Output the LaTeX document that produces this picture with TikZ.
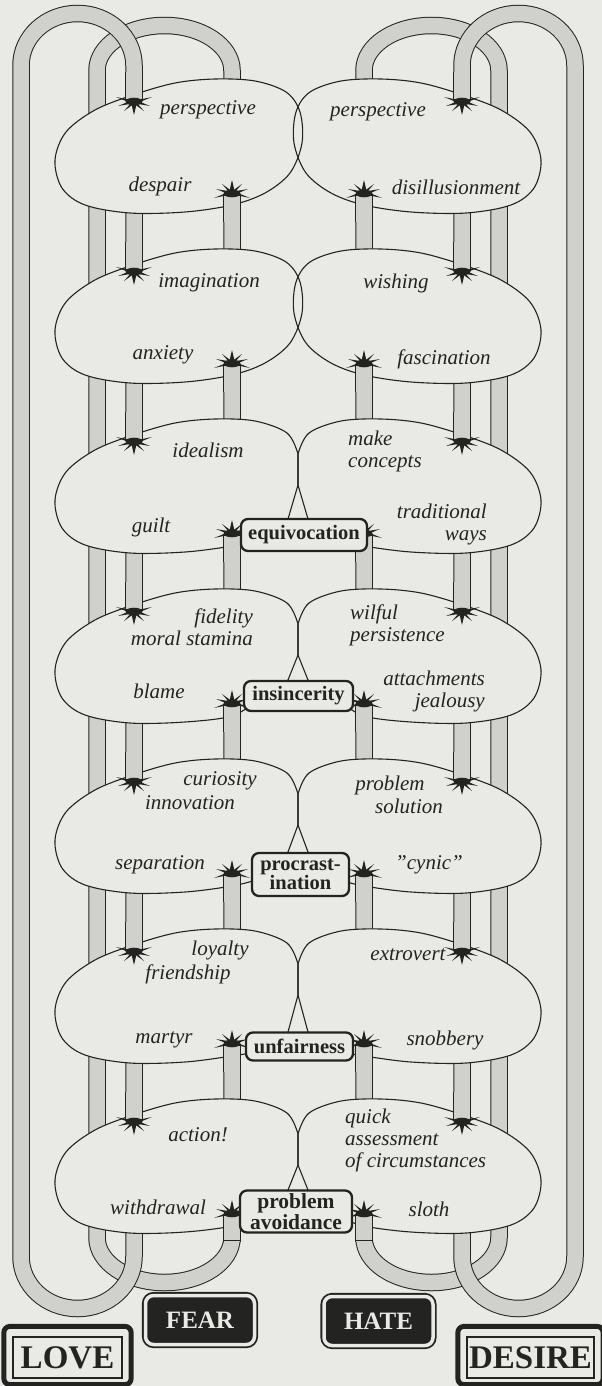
\documentclass[tikz,border=0pt]{standalone}
\usepackage{fontspec}
\setmainfont{Liberation Serif}
\definecolor{bg}{RGB}{233,233,230}
\definecolor{tubec}{RGB}{208,208,205}
\definecolor{ink}{RGB}{35,35,33}
\newcommand\starshape{%
  \fill[ink] (0,0.5) ellipse[x radius=8.5, y radius=3.8];
  \fill[ink] (-5,-1.3) -- (-18,-4) -- (-5,1.3) -- cycle;
  \fill[ink] (-5,0.5) -- (-16,5) -- (-4,3) -- cycle;
  \fill[ink] (-3,2) -- (-10,10) -- (-1,3.5) -- cycle;
  \fill[ink] (-2.8,2) -- (0,14) -- (2.8,2) -- cycle;
  \fill[ink] (3,2) -- (10,10) -- (1,3.5) -- cycle;
  \fill[ink] (5,0.5) -- (16,5) -- (4,3) -- cycle;
  \fill[ink] (5,-1.3) -- (18,-4) -- (5,1.3) -- cycle;
}
\tikzset{
  starT/.pic={\starshape},
  starB/.pic={\begin{scope}[yscale=-1]\starshape\end{scope}},
  tubeo/.style={draw=ink, line width=17.5pt},
  tubei/.style={draw=tubec, line width=15.5pt},
  blobline/.style={draw=ink, line width=1.1pt, line join=round},
  lbl/.style={font=\fontsize{21}{22}\selectfont\itshape, text=ink, inner sep=0pt},
  vice/.style={draw=ink, line width=2.3pt, rounded corners=7pt, fill=bg, text=ink,
    font=\fontsize{20.5}{19}\selectfont\bfseries, align=center, inner sep=0pt},
  passion/.style={draw=ink, fill=ink, text=bg, double=bg, double distance=3.5pt,
    line width=1.8pt, rounded corners=8pt, minimum width=109pt, minimum height=49pt,
    inner sep=0pt, font=\fontsize{25}{25}\selectfont\bfseries},
  root/.style={draw=ink, line width=1.2pt, fill=bg, text=ink, minimum height=41pt,
    inner sep=0pt, font=\fontsize{33}{33}\selectfont\bfseries},
}
\def\innerloop{(97,600) -- (97,70.5) arc[start angle=180,end angle=360,x radius=67.5,y radius=45] -- (232,1237.5) arc[start angle=0,end angle=180,x radius=67.5,y radius=45] -- cycle}
\def\outerloop{(21,600) -- (21,65.5) arc[start angle=180,end angle=360,x radius=56.5,y radius=52] -- (134,1256.5) arc[start angle=0,end angle=180,x radius=56.5,y radius=52] -- cycle}
\def\blobA{plot[smooth cycle, tension=0.55] coordinates {(300,112) (286,92) (255,81) (215,79) (175,83) (133,95) (95,110) (66,132) (55,160) (62,188) (85,205) (130,213) (185,212) (232,205) (265,193) (290,173) (302,143)}}
\newcommand\blobB[2]{(298,145) -- plot[smooth, tension=0.55] coordinates {(298,114) (287,93) (255,81) (215,79) (175,83) (133,95) (95,110) (66,132) (55,160) (62,188) (85,205) (130,213) (185,212) (232,206) (256,#2)} -- (288,#1) -- cycle}
\begin{document}
\begin{tikzpicture}[x=1pt,y=-1pt]
\useasboundingbox (0,0) rectangle (602,1386);
\fill[bg] (0,0) rectangle (602,1386);
% tube loops
\draw[tubeo] \innerloop; \draw[tubei] \innerloop;
\begin{scope}[shift={(596,0)},xscale=-1]
  \draw[tubeo] \innerloop; \draw[tubei] \innerloop;
\end{scope}
\draw[tubeo] \outerloop; \draw[tubei] \outerloop;
\begin{scope}[shift={(596,0)},xscale=-1]
  \draw[tubeo] \outerloop; \draw[tubei] \outerloop;
\end{scope}
% blob fills
\foreach \k in {0,1}{
  \begin{scope}[shift={(0,170*\k)}] \fill[bg] \blobA; \end{scope}
  \begin{scope}[shift={(596,170*\k)},xscale=-1] \fill[bg] \blobA; \end{scope}
}
\foreach \k/\t/\c in {2/179/200,3/170/191,4/172/200,5/182/202,6/170/197}{
  \begin{scope}[shift={(0,170*\k)}] \fill[bg] \blobB{\t}{\c}; \end{scope}
  \begin{scope}[shift={(596,170*\k)},xscale=-1] \fill[bg] \blobB{\t}{\c}; \end{scope}
}
% blob outlines
\foreach \k in {0,1}{
  \begin{scope}[shift={(0,170*\k)}] \draw[blobline] \blobA; \end{scope}
  \begin{scope}[shift={(596,170*\k)},xscale=-1] \draw[blobline] \blobA; \end{scope}
}
\foreach \k/\t/\c in {2/179/200,3/170/191,4/172/200,5/182/202,6/170/197}{
  \begin{scope}[shift={(0,170*\k)}] \draw[blobline] \blobB{\t}{\c}; \end{scope}
  \begin{scope}[shift={(596,170*\k)},xscale=-1] \draw[blobline] \blobB{\t}{\c}; \end{scope}
}
% stubs and stars
\foreach \k in {0,...,6}{
  \begin{scope}[shift={(0,170*\k)}]
    \draw[tubeo] (134,72) -- (134,101); \draw[tubei] (134,72) -- (134,101);
    \draw[tubeo] (232,222) -- (232,194); \draw[tubei] (232,222) -- (232,194);
    \pic at (134,101) {starT}; \pic at (232,194) {starB};
  \end{scope}
  \begin{scope}[shift={(596,170*\k)},xscale=-1]
    \draw[tubeo] (134,72) -- (134,101); \draw[tubei] (134,72) -- (134,101);
    \draw[tubeo] (232,222) -- (232,194); \draw[tubei] (232,222) -- (232,194);
    \pic at (134,101) {starT}; \pic at (232,194) {starB};
  \end{scope}
}
\draw[ink, line width=1pt] (223.3,1240) -- (240.7,1240);
\draw[ink, line width=1pt] (355.3,1240) -- (372.7,1240);
% labels
\node[lbl] (pL1) at (208,110) {perspective};
\node[lbl] (dL1) at (160,186) {despair};
\node[lbl] (pR1) at (378,112) {perspective};
\node[lbl] (dR1) at (456,187) {disillusionment};
\node[lbl] (iL2) at (209,283) {imagination};
\node[lbl] (aL2) at (163,355) {anxiety};
\node[lbl] (wR2) at (396,283) {wishing};
\node[lbl] (fR2) at (444,359) {fascination};
\node[lbl] (iL3) at (208,450) {idealism};
\node[lbl] (gL3) at (151,527) {guilt};
\node[lbl, align=left, anchor=west] (mR3) at (348,451) {make\\concepts};
\node[lbl, align=right, anchor=east] (tR3) at (487,524) {traditional\\ways};
\node[lbl, align=right, anchor=east] (fL4) at (253,627) {fidelity\\moral stamina};
\node[lbl] (bL4) at (159,691) {blame};
\node[lbl, align=left, anchor=west] (wR4) at (350,625) {wilful\\persistence};
\node[lbl, align=right, anchor=east] (aR4) at (485,691) {attachments\\jealousy};
\node[lbl] (cL5) at (220,781) {curiosity};
\node[lbl] (nL5) at (190,803) {innovation};
\node[lbl] (sL5) at (160,865) {separation};
\node[lbl] (pR5) at (390,785) {problem};
\node[lbl] (sR5) at (409,806) {solution};
\node[lbl] (cR5) at (429,865) {"cynic"};
\node[lbl] (lL6) at (220,950) {loyalty};
\node[lbl] (fL6) at (188,974) {friendship};
\node[lbl] (mL6) at (164,1040) {martyr};
\node[lbl] (eR6) at (408,955) {extrovert};
\node[lbl] (sR6) at (445,1040) {snobbery};
\node[lbl] (aL7) at (198,1135) {action!};
\node[lbl] (wL7) at (158,1207) {withdrawal};
\node[lbl, align=left, anchor=west] (qR7) at (345,1140) {quick\\assessment\\of circumstances};
\node[lbl] (sR7) at (429,1209) {sloth};
% vice boxes
\node[vice, minimum width=126pt, minimum height=32pt] (equiv) at (304,535) {equivocation};
\node[vice, minimum width=109pt, minimum height=30pt] (insinc) at (298.5,696) {insincerity};
\node[vice, minimum width=97pt, minimum height=43pt] (procr) at (300.5,874.5) {procrast-\\ination};
\node[vice, minimum width=107pt, minimum height=28pt] (unfair) at (299.5,1046.5) {unfairness};
\node[vice, minimum width=112pt, minimum height=42pt, font=\fontsize{21.5}{19}\selectfont\bfseries] (avoid) at (296,1211.5) {problem\\avoidance};
% passions
\node[passion] (fear) at (200,1320) {FEAR};
\node[passion] (hate) at (378.5,1321) {HATE};
\node[root, minimum width=109pt] (love) at (67.5,1357.5) {LOVE};
\node[root, minimum width=127pt] (desire) at (530.5,1357.5) {DESIRE};
\draw[ink, line width=5pt, rounded corners=6pt] ([shift={(-8.5,-10)}]love.north west) rectangle ([shift={(8.5,6)}]love.south east);
\draw[ink, line width=5pt, rounded corners=6pt] ([shift={(-8.5,-10)}]desire.north west) rectangle ([shift={(8.5,6)}]desire.south east);
\end{tikzpicture}
\end{document}
